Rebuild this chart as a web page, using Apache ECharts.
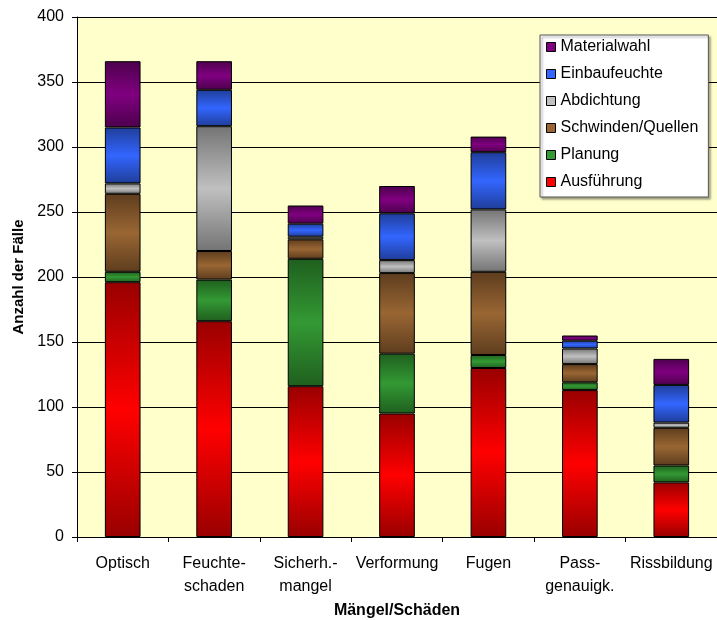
<!DOCTYPE html>
<html lang="de">
<head>
<meta charset="UTF-8">
<title>Mängel/Schäden</title>
<script src="https://cdn.jsdelivr.net/npm/echarts@6/dist/echarts.min.js"></script>
<style>
  html, body { margin: 0; padding: 0; background: #fff; }
  #chart { width: 717px; height: 620px; }
</style>
</head>
<body>
<div id="chart"></div>
<script>
// Kategorien (x-Achse)
let categories = ['Optisch', 'Feuchte-\nschaden', 'Sicherh.-\nmangel', 'Verformung', 'Fugen', 'Pass-\ngenauigk.', 'Rissbildung'];

// Werte je Ursache (von unten nach oben gestapelt)
let ausfuehrung   = [196, 166, 116, 95, 130, 113, 42];
let planung       = [8, 32, 98, 46, 10, 6, 13];
let schwinden     = [60, 22, 15, 62, 64, 14, 29];
let abdichtung    = [8, 96, 2, 10, 48, 12, 4];
let einbaufeuchte = [43, 28, 10, 36, 44, 6, 29];
let materialwahl  = [51, 22, 14, 21, 12, 4, 20];

let yTicks = [0, 50, 100, 150, 200, 250, 300, 350, 400];

// Farben: [Rand dunkel, Mitte hell]
let colors = {
    'Ausführung':        ['#990000', '#ff0000'],
    'Planung':           ['#1f5f1f', '#339933'],
    'Schwinden/Quellen': ['#5e3d1e', '#996633'],
    'Abdichtung':        ['#747474', '#c0c0c0'],
    'Einbaufeuchte':     ['#1f3d99', '#3366ff'],
    'Materialwahl':      ['#4d004d', '#800080']
};

function grad(name) {
    let c = colors[name];
    return new echarts.graphic.LinearGradient(0, 0, 0, 1, [
        { offset: 0, color: c[0] },
        { offset: 0.5, color: c[1] },
        { offset: 1, color: c[0] }
    ]);
}

function makeSeries(name, data) {
    return {
        name: name,
        type: 'bar',
        stack: 'total',
        barWidth: '39%',
        data: data,
        itemStyle: {
            color: grad(name),
            borderColor: '#000',
            borderWidth: 1
        }
    };
}

let chart = echarts.init(document.getElementById('chart'));
let legendNames = ['Materialwahl', 'Einbaufeuchte', 'Abdichtung', 'Schwinden/Quellen', 'Planung', 'Ausführung'];

let option = {
    animation: false,
    textStyle: { fontFamily: 'Liberation Sans, Arial, sans-serif' },
    grid: {
        left: 77,
        right: 0,
        top: 17,
        bottom: 83,
        outerBoundsMode: 'none',
        containLabel: false,
        show: true,
        backgroundColor: '#ffffcc',
        borderWidth: 0
    },
    legend: {
        orient: 'vertical',
        left: 540,
        top: 35,
        padding: [4, 10, 7, 6],
        itemGap: 11,
        itemWidth: 9,
        itemHeight: 9,
        icon: 'rect',
        backgroundColor: '#ffffff',
        borderColor: '#555',
        borderWidth: 1,
        shadowColor: 'rgba(0,0,0,0.35)',
        shadowOffsetX: 2,
        shadowOffsetY: 2,
        shadowBlur: 2,
        textStyle: { fontSize: 16, color: '#000', lineHeight: 16 },
        data: legendNames.map(n => ({
            name: n,
            itemStyle: { color: colors[n][1], borderColor: '#000', borderWidth: 1 }
        }))
    },
    xAxis: {
        type: 'category',
        data: categories,
        name: 'Mängel/Schäden',
        nameLocation: 'middle',
        nameGap: 57,
        nameTextStyle: { fontSize: 16, fontWeight: 'bold', color: '#000' },
        axisLine: { lineStyle: { color: '#000', width: 1 } },
        axisTick: { show: true, length: 5, lineStyle: { color: '#000' } },
        axisLabel: { fontSize: 16, color: '#000', margin: 15, lineHeight: 23, interval: 0 },
        splitLine: { show: false }
    },
    yAxis: {
        type: 'value',
        min: 0,
        max: 400,
        interval: 50,
        name: 'Anzahl der Fälle',
        nameLocation: 'middle',
        nameGap: 48,
        nameTextStyle: { fontSize: 15, fontWeight: 'bold', color: '#000' },
        axisLine: { show: true, lineStyle: { color: '#000', width: 1 } },
        axisTick: { show: true, length: 5, lineStyle: { color: '#000' } },
        axisLabel: {
            fontSize: 16, color: '#000', margin: 13,
            formatter: v => yTicks.indexOf(v) >= 0 ? String(v) : ''
        },
        splitLine: { show: true, lineStyle: { color: '#000', width: 1 } }
    },
    series: [
        makeSeries('Ausführung', ausfuehrung),
        makeSeries('Planung', planung),
        makeSeries('Schwinden/Quellen', schwinden),
        makeSeries('Abdichtung', abdichtung),
        makeSeries('Einbaufeuchte', einbaufeuchte),
        makeSeries('Materialwahl', materialwahl)
    ]
};
chart.setOption(option);
</script>
</body>
</html>
